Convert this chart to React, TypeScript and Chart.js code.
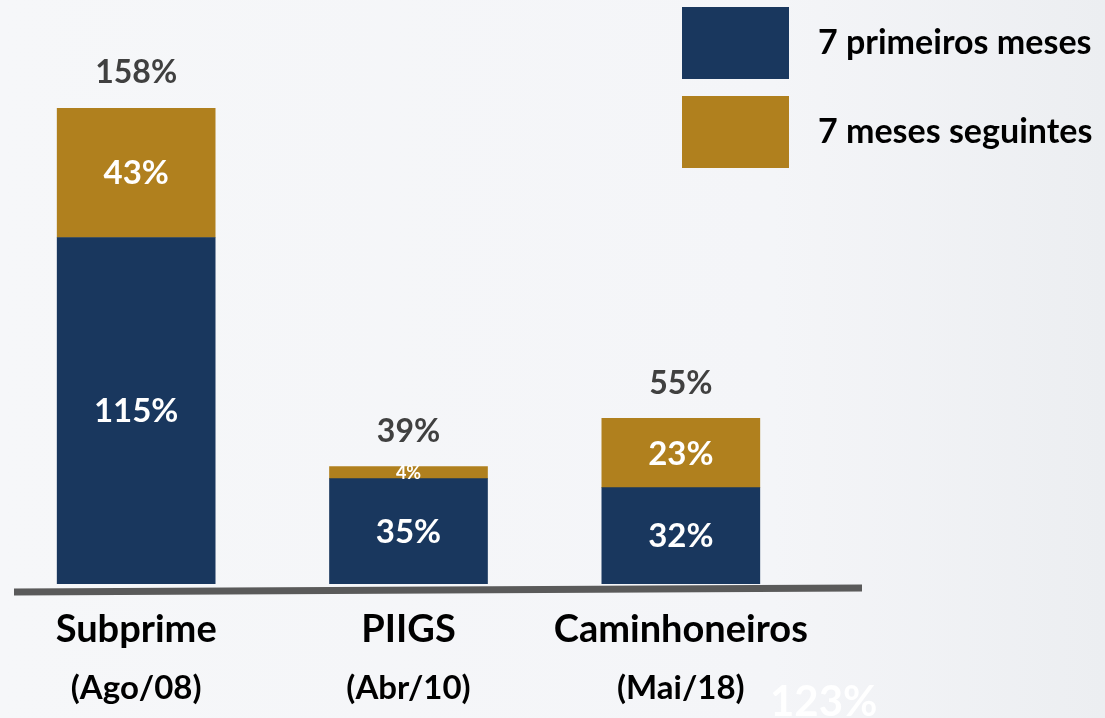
import React, { useEffect, useRef } from "react";
import { Chart, registerables } from "chart.js";

Chart.register(...registerables);

const categoryNames = ["Subprime", "PIIGS", "Caminhoneiros"];
const categoryDates = ["(Ago/08)", "(Abr/10)", "(Mai/18)"];
const seriesNames = ["7 primeiros meses", "7 meses seguintes"];
const firstSevenMonths = [115, 35, 32];
const nextSevenMonths = [43, 4, 23];
const totalLabels = ["158%", "39%", "55%"];
const strayLabel = "123%";

const BLUE = "#19375e";
const GOLD = "#b0801e";
const FONT = "Lato, 'Open Sans', sans-serif";

export default function App() {
  const ref = useRef<HTMLCanvasElement | null>(null);

  useEffect(() => {
    const canvas = ref.current;
    if (!canvas) return;

    const overlay = {
      id: "overlay",
      beforeDraw(chart: any) {
        const { ctx, width, height } = chart;
        ctx.save();
        const g = ctx.createLinearGradient(0, 0, width, 0);
        g.addColorStop(0, "#f6f7f9");
        g.addColorStop(0.7, "#f4f5f8");
        g.addColorStop(1, "#eceef1");
        ctx.fillStyle = g;
        ctx.fillRect(0, 0, width, height);
        ctx.restore();
      },
      afterDatasetsDraw(chart: any) {
        const { ctx, chartArea } = chart;
        const xScale = chart.scales.x;
        ctx.save();
        // axis line
        ctx.strokeStyle = "#5a5a5a";
        ctx.lineWidth = 7;
        ctx.beginPath();
        ctx.moveTo(14, chartArea.bottom + 8);
        ctx.lineTo(862, chartArea.bottom + 4);
        ctx.stroke();

        // segment labels
        ctx.textAlign = "center";
        ctx.textBaseline = "middle";
        chart.data.datasets.forEach((ds: any, di: number) => {
          const meta = chart.getDatasetMeta(di);
          meta.data.forEach((bar: any, i: number) => {
            const v = ds.data[i];
            const h = Math.abs(bar.base - bar.y);
            const size = h < 30 ? 18 : 33;
            ctx.font = `bold ${size}px ${FONT}`;
            ctx.fillStyle = "#ffffff";
            ctx.fillText(`${v}%`, bar.x, (bar.y + bar.base) / 2 + 1);
          });
        });

        // totals
        const topMeta = chart.getDatasetMeta(chart.data.datasets.length - 1);
        ctx.font = `bold 32px ${FONT}`;
        ctx.fillStyle = "#404040";
        topMeta.data.forEach((bar: any, i: number) => {
          ctx.fillText(totalLabels[i], bar.x, bar.y - 35);
        });

        // category labels
        ctx.fillStyle = "#000000";
        categoryNames.forEach((name, i) => {
          const x = xScale.getPixelForValue(i);
          ctx.font = `bold 38px ${FONT}`;
          ctx.fillText(name, x, 630);
          ctx.font = `bold 33px ${FONT}`;
          ctx.fillText(categoryDates[i], x, 688);
        });

        // stray label
        ctx.font = `bold 42px ${FONT}`;
        ctx.fillStyle = "rgba(255,255,255,0.95)";
        ctx.textAlign = "left";
        ctx.textBaseline = "alphabetic";
        ctx.fillText(strayLabel, 770, 716);

        // legend
        const colors = [BLUE, GOLD];
        const boxes = [7, 96];
        seriesNames.forEach((n, i) => {
          ctx.fillStyle = colors[i];
          ctx.fillRect(682, boxes[i], 107, 72);
          ctx.fillStyle = "#000000";
          ctx.font = `bold 34px ${FONT}`;
          ctx.textAlign = "left";
          ctx.textBaseline = "middle";
          ctx.fillText(n, 818, boxes[i] + 36);
        });
        ctx.restore();
      },
    };

    const chart = new Chart(canvas, {
      type: "bar",
      data: {
        labels: categoryNames,
        datasets: [
          { label: seriesNames[0], data: firstSevenMonths, backgroundColor: BLUE, barThickness: 158 },
          { label: seriesNames[1], data: nextSevenMonths, backgroundColor: GOLD, barThickness: 158 },
        ],
      },
      options: {
        animation: false,
        responsive: false,
        maintainAspectRatio: false,
        layout: { padding: { left: 0, right: 288, top: 108, bottom: 134 } },
        plugins: { legend: { display: false }, tooltip: { enabled: false } },
        scales: {
          x: { stacked: true, display: false },
          y: { stacked: true, display: false, min: 0, max: 158 },
        },
      },
      plugins: [overlay],
    });
    return () => chart.destroy();
  }, []);

  return (
    <div style={{ position: "fixed", left: 0, top: 0, width: 1105, height: 718, overflow: "hidden" }}>
      <canvas ref={ref} width={1105} height={718} style={{ display: "block" }} />
    </div>
  );
}
